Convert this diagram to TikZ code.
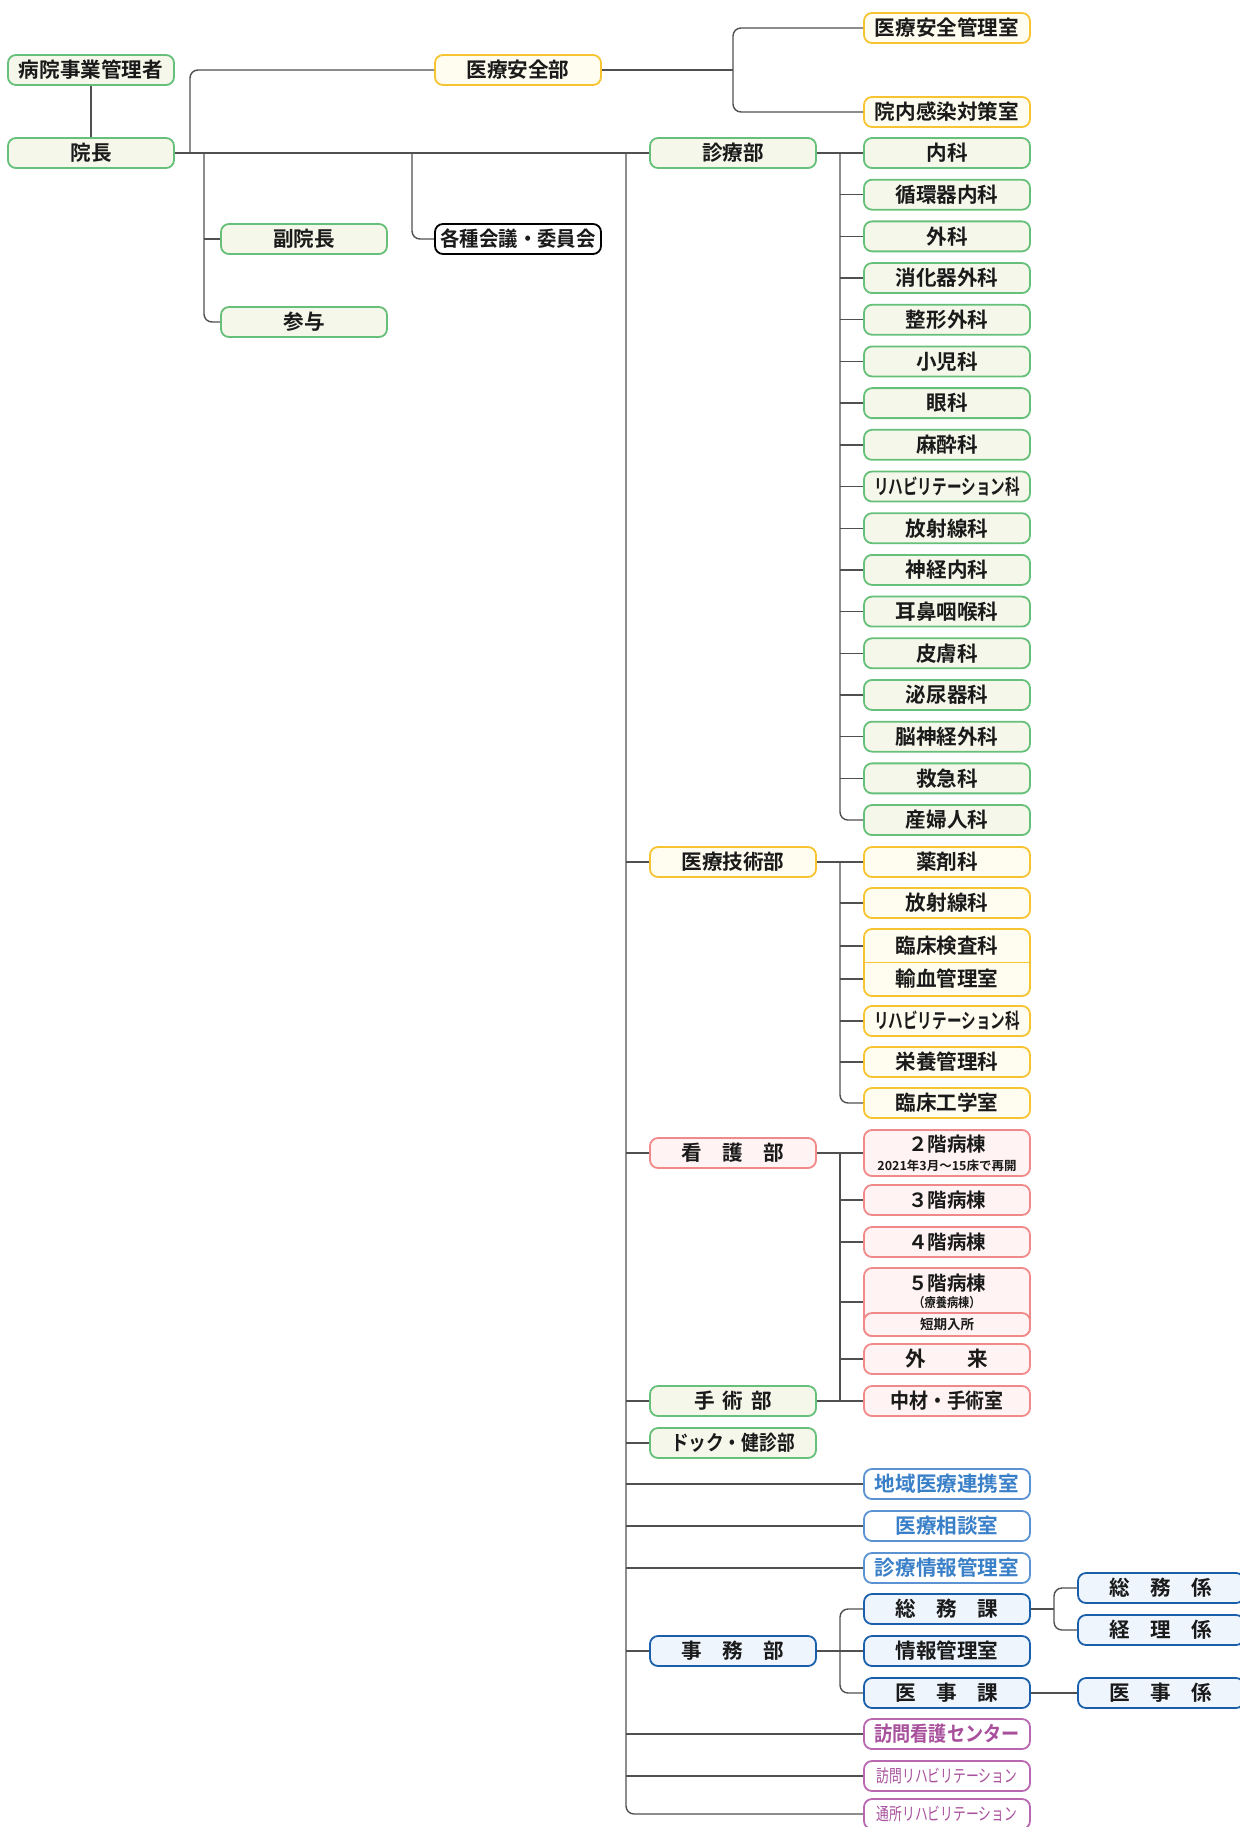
\documentclass[tikz,border=0pt]{standalone}
\usepackage{fontspec}
\newfontfamily\jp{Noto Sans CJK JP}[BoldFont={Noto Sans CJK JP Bold}]
\definecolor{lnC}{HTML}{505050}
\definecolor{txC}{HTML}{1A1A1A}
\definecolor{gB}{HTML}{66C07A}
\definecolor{gF}{HTML}{F5F7EA}
\definecolor{yB}{HTML}{F7C431}
\definecolor{yF}{HTML}{FFFDF0}
\definecolor{pB}{HTML}{F08A8A}
\definecolor{pF}{HTML}{FFF3F3}
\definecolor{lbB}{HTML}{5A92D2}
\definecolor{lbT}{HTML}{3A80C8}
\definecolor{dbB}{HTML}{1A5FAA}
\definecolor{dbF}{HTML}{EEF5FD}
\definecolor{mB}{HTML}{B868B0}
\definecolor{mT}{HTML}{A8509C}
\begin{document}
\begin{tikzpicture}[x=1pt,y=-1pt,
  conn/.style={draw=lnC, line width=1.4pt},
  rconn/.style={conn, rounded corners=8pt},
  bx/.style={draw, rounded corners=8pt, line width=1.8pt, minimum width=166pt, minimum height=30pt, inner sep=0pt, text=txC, font=\jp\bfseries\fontsize{20.6}{24}\selectfont},
  gbox/.style={bx, draw=gB, fill=gF},
  ybox/.style={bx, draw=yB, fill=yF},
  pbox/.style={bx, draw=pB, fill=pF},
  lbbox/.style={bx, draw=lbB, fill=white, text=lbT},
  dbbox/.style={bx, draw=dbB, fill=dbF},
  mbox/.style={bx, draw=mB, fill=white, text=mT},
  kbox/.style={bx, draw=black, fill=white},
  lbl/.style={inner sep=0pt, text=txC, font=\jp\bfseries\fontsize{19.5}{22}\selectfont},
  small/.style={inner sep=0pt, text=txC, font=\jp\bfseries\fontsize{13}{15}\selectfont},
]
\useasboundingbox[fill=white] (0,0) rectangle (1239,1827);

% --- top level ---
\node[gbox] (jigyo) at (91,70) {病院事業管理者};
\node[gbox] (inchou) at (91,153) {院長};
\node[ybox] (anzen) at (518,70) {医療安全部};
\node[gbox] (fuku) at (304,239) {副院長};
\node[gbox] (sanyo) at (304,322) {参与};
\node[kbox] (kaigi) at (518,239) {\scalebox{0.94}[1]{各種会議・委員会}};
\node[ybox] (kanri) at (947,28) {医療安全管理室};
\node[ybox] (kansen) at (947,112) {院内感染対策室};

% --- departments ---
\node[gbox] (shinryo) at (733,153) {診療部};
\node[ybox] (gijutsu) at (733,862) {医療技術部};
\node[pbox] (kango) at (733,1153) {看　護　部};
\node[gbox] (shujutsu) at (733,1401) {手\hspace{8pt}術\hspace{8pt}部};
\node[gbox] (dock) at (733,1443) {\scalebox{0.86}[1]{ドック・健診部}};
\node[dbbox] (jimu) at (733,1651) {事　務　部};

% --- clinical departments ---
\foreach \t [count=\i from 0] in {内科,循環器内科,外科,消化器外科,整形外科,小児科,眼科,麻酔科,{\scalebox{0.71}[1]{リハビリテーション科}},放射線科,神経内科,耳鼻咽喉科,皮膚科,泌尿器科,脳神経外科,救急科,産婦人科}
  \node[gbox] (s\i) at (947,{153+41.69*\i}) {\t};

% --- medical technology ---
\node[ybox] (yakuzai) at (947,862) {薬剤科};
\node[ybox] (hoshasen) at (947,903) {放射線科};
\node[ybox, minimum height=67pt] (rinsho) at (947,962.5) {};
\draw[draw=yB, line width=1.8pt] ([xshift=0.9pt]rinsho.west) -- ([xshift=-0.9pt]rinsho.east);
\node[lbl, font=\jp\bfseries\fontsize{20.6}{24}\selectfont] (kensa) at (947,946) {臨床検査科};
\node[lbl, font=\jp\bfseries\fontsize{20.6}{24}\selectfont] (yuketsu) at (947,979) {輸血管理室};
\node[ybox] (rihat) at (947,1021) {\scalebox{0.71}[1]{リハビリテーション科}};
\node[ybox] (eiyo) at (947,1062) {栄養管理科};
\node[ybox] (kogaku) at (947,1103) {臨床工学室};

% --- nursing ---
\node[pbox, minimum height=46pt] (b2) at (947,1153) {};
\node[lbl] (b2t) at (947,1144) {２階病棟};
\node[small, font=\jp\bfseries\fontsize{12.5}{15}\selectfont] (b2s) at (947,1166) {2021年3月～15床で再開};
\node[pbox, font=\jp\bfseries\fontsize{19.5}{22}\selectfont] (b3) at (947,1200) {３階病棟};
\node[pbox, font=\jp\bfseries\fontsize{19.5}{22}\selectfont] (b4) at (947,1242) {４階病棟};
\node[pbox, minimum height=68pt] (b5) at (947,1302) {};
\node[pbox, minimum height=23pt, font=\jp\bfseries\fontsize{13.5}{15}\selectfont] (tanki) at (947,1324.5) {短期入所};
\node[lbl] (b5t) at (947,1283) {５階病棟};
\node[small, font=\jp\bfseries\fontsize{13}{15}\selectfont] (b5s) at (947,1303) {\scalebox{0.86}[1]{（療養病棟）}};
\node[pbox] (gairai) at (947,1359) {外　　来};
\node[pbox] (chuzai) at (947,1401) {\scalebox{0.92}[1]{中材・手術室}};

% --- offices ---
\node[lbbox] (chiiki) at (947,1484) {地域医療連携室};
\node[lbbox] (sodan) at (947,1526) {医療相談室};
\node[lbbox] (joho) at (947,1568) {診療情報管理室};
\node[dbbox] (somuka) at (947,1609) {総　務　課};
\node[dbbox] (johokanri) at (947,1651) {情報管理室};
\node[dbbox] (ijika) at (947,1693) {医　事　課};
\node[dbbox] (somukakari) at (1161,1588) {総　務　係};
\node[dbbox] (keiri) at (1161,1630) {経　理　係};
\node[dbbox] (ijikakari) at (1161,1693) {医　事　係};
\node[mbox] (homon) at (947,1734) {\scalebox{0.88}[1]{訪問看護センター}};
\node[mbox, font=\jp\fontsize{17.5}{20}\selectfont] (hrihab) at (947,1776) {\scalebox{0.73}[1]{訪問リハビリテーション}};
\node[mbox, font=\jp\fontsize{17.5}{20}\selectfont] (trihab) at (947,1814) {\scalebox{0.73}[1]{通所リハビリテーション}};

% --- connectors: top ---
\coordinate (j1) at (190,153);
\coordinate (j2) at (204,153);
\coordinate (j3) at (412,153);
\coordinate (trunk) at (626,153);
\coordinate (ja) at (733,70);
\draw[conn] (jigyo.south) -- (inchou.north);
\draw[conn] (inchou.east) -- (shinryo.west);
\draw[rconn] (j1) |- (anzen.west);
\draw[rconn] (j2) |- (sanyo.west);
\draw[conn] (j2 |- fuku.west) -- (fuku.west);
\draw[rconn] (j3) |- (kaigi.west);
\draw[conn] (anzen.east) -- (ja);
\draw[rconn] (kanri.west) -| (ja) |- (kansen.west);

% --- trunk ---
\draw[rconn] (trunk) |- (trihab.west);
\foreach \n in {gijutsu,kango,shujutsu,dock,chiiki,sodan,joho,jimu,homon,hrihab}
  \draw[conn] (trunk |- \n.west) -- (\n.west);

% --- clinical ---
\coordinate (sv1) at (840,153);
\draw[conn] (shinryo.east) -- (s0.west);
\draw[rconn] (sv1) |- (s16.west);
\foreach \i in {1,...,15}
  \draw[conn] (sv1 |- s\i.west) -- (s\i.west);

% --- medical technology ---
\coordinate (sv2) at (840,862);
\draw[conn] (gijutsu.east) -- (yakuzai.west);
\draw[rconn] (sv2) |- (kogaku.west);
\draw[conn] (sv2 |- hoshasen.west) -- (hoshasen.west);
\draw[conn] (sv2 |- kensa) -- (rinsho.west |- kensa);
\draw[conn] (sv2 |- yuketsu) -- (rinsho.west |- yuketsu);
\draw[conn] (sv2 |- rihat.west) -- (rihat.west);
\draw[conn] (sv2 |- eiyo.west) -- (eiyo.west);

% --- nursing ---
\coordinate (sv3) at (840,1153);
\draw[conn] (kango.east) -- (b2.west);
\draw[conn] (sv3) -- (sv3 |- shujutsu.east);
\draw[conn] (shujutsu.east) -- (chuzai.west);
\foreach \n in {b3,b4,b5,gairai}
  \draw[conn] (sv3 |- \n.west) -- (\n.west);

% --- office ---
\coordinate (sv4) at (840,1651);
\coordinate (sv5) at (1054,1609);
\draw[conn] (jimu.east) -- (johokanri.west);
\draw[rconn] (somuka.west) -| (sv4) |- (ijika.west);
\draw[conn] (somuka.east) -- (sv5);
\draw[rconn] (somukakari.west) -| (sv5) |- (keiri.west);
\draw[conn] (ijika.east) -- (ijikakari.west);
\end{tikzpicture}
\end{document}
